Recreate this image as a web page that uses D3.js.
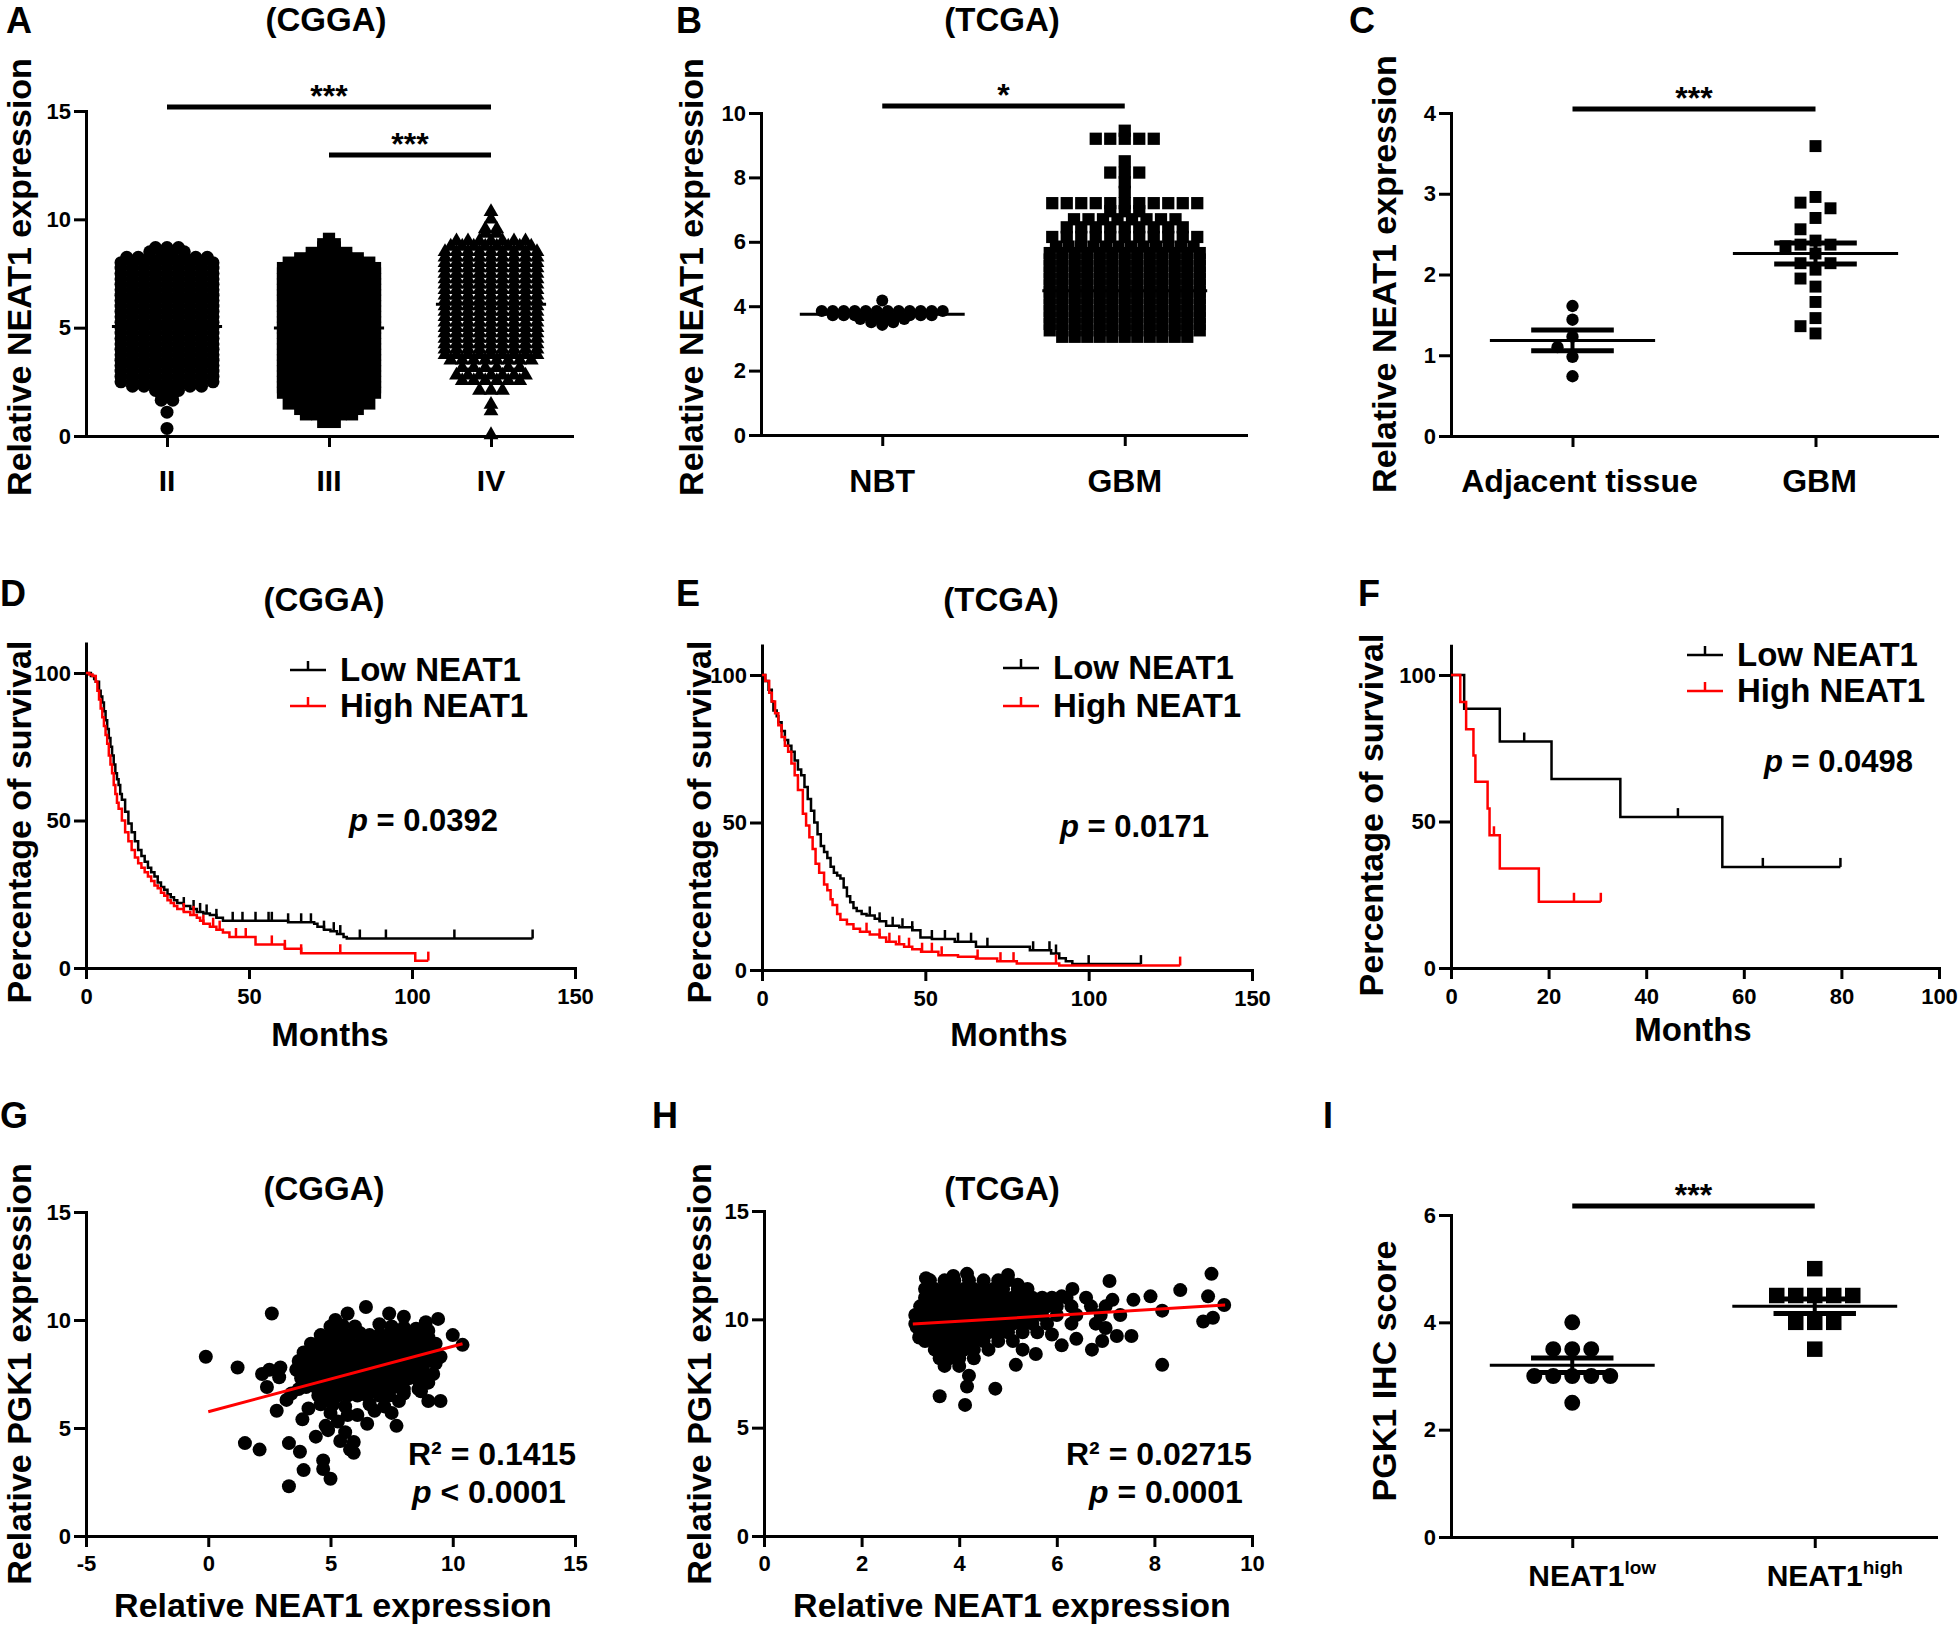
<!DOCTYPE html>
<html>
<head>
<meta charset="utf-8">
<script src="https://cdn.jsdelivr.net/npm/d3@7"></script>
<style>
  body { margin: 0; background: #fff; }
  svg text { font-family: "Liberation Sans", Arial, Helvetica, sans-serif; font-weight: bold; fill: #000; }
</style>
</head>
<body>
<svg id="fig" width="1960" height="1629"></svg>
<script>
// ---------------- DATA ----------------

// A: CGGA, NEAT1 by grade. Dot-plot rows: [value, number of points in that row]
var gradeNames = ["II", "III", "IV"];
var gradeII = [[8.7,3],[8.5,4],[8.25,8],[8.0,9],[7.75,9],[7.5,9],[7.25,9],[7.0,9],[6.75,9],[6.5,9],[6.25,9],[6.0,9],
  [5.75,9],[5.5,9],[5.25,9],[5.0,9],[4.75,9],[4.5,9],[4.25,9],[4.0,9],[3.75,9],[3.5,9],[3.25,9],[3.0,9],[2.75,9],[2.5,9],
  [2.3,7],[2.1,3],[1.9,2],[1.65,2],[1.1,1],[0.35,1]];
var gradeIII = [[9.1,1],[8.85,2],[8.7,2],[8.45,4],[8.2,6],[8.0,8],[7.75,9],[7.5,9],[7.25,9],[7.0,9],[6.75,9],[6.5,9],
  [6.25,9],[6.0,9],[5.75,9],[5.5,9],[5.25,9],[5.0,9],[4.75,9],[4.5,9],[4.25,9],[4.0,9],[3.75,9],[3.5,9],[3.25,9],[3.0,9],
  [2.75,9],[2.5,9],[2.25,9],[2.0,9],[1.75,7],[1.5,8],[1.25,6],[1.0,5],[0.65,2]];
var gradeIV = [[10.35,1],[10.0,1],[9.55,2],[9.35,2],[9.0,7],[8.75,8],[8.5,9],[8.25,9],[8.0,9],[7.75,9],[7.5,9],[7.25,9],
  [7.0,9],[6.75,9],[6.5,9],[6.25,9],[6.0,9],[5.75,9],[5.5,9],[5.25,9],[5.0,9],[4.75,9],[4.5,9],[4.25,9],[4.0,9],[3.75,9],
  [3.5,8],[3.15,6],[2.8,7],[2.55,6],[2.1,3],[1.45,1],[1.15,1],[0.05,1]];
var gradeMeans = [5.05, 4.98, 6.08];

// B: TCGA, NBT vs GBM (rows: [value, count])
var tissueB = ["NBT", "GBM"];
var nbtB = [[4.18,1],[3.85,12],[3.72,10],[3.6,5],[3.5,3],[3.42,1]];
var gbmB = [[9.45,1],[9.2,5],[8.5,1],[8.15,3],[7.85,1],[7.55,1],[7.2,11],[6.95,3],[6.7,8],[6.45,9],[6.15,11],
  [5.85,12],[5.65,13],[5.45,13],[5.25,13],[5.05,13],[4.85,13],[4.65,13],[4.45,13],[4.25,13],[4.05,13],[3.85,13],
  [3.65,13],[3.45,13],[3.25,13],[3.05,11]];
var meansB = [3.75, 4.48];

// C: adjacent tissue vs GBM (individual values)
var tissueC = ["Adjacent tissue", "GBM"];
var adjC = [1.61, 1.44, 1.23, 1.1, 0.98, 0.74];
var gbmC = [3.59, 2.96, 2.89, 2.82, 2.7, 2.56, 2.42, 2.37, 2.37, 2.35, 2.26, 2.14, 2.14, 2.06, 1.95, 1.85, 1.66, 1.46, 1.36, 1.27];

// D: CGGA survival, steps [month, percent]
var kmDLow = [[0,100],[1.5,99],[2.5,98],[3,97],[4,94],[4.5,92],[5,90],[5.5,87],[6,84],[6.5,81],[7,78],[7.5,75],[8,72],
  [8.5,69],[9,66],[9.5,64],[10,62],[10.5,59],[11,57],[12,53],[13,49],[14,46],[15,43],[16,40],[17,38],[18,36],[19,34],
  [20,32.5],[21,31],[22,29],[23,27.5],[24,26.5],[25,25],[26,24],[27,23],[28,22],[30,21],[32,20],[34,19],[36,18.5],
  [38,18],[40,17],[42,16],[62,15.5],[70,15],[71,14],[73,13],[75,12.5],[77,11.5],[79,10.5],[80,10],[137,10]];
var kmDHigh = [[0,100],[1,99.5],[2,99],[3,97],[3.5,94],[4,91],[4.5,88],[5,85],[5.5,82],[6,79],[6.5,76],[7,72],[7.5,69],
  [8,66],[8.5,62],[9,59],[9.5,56],[10,54],[11,50],[12,46],[13,43],[14,40],[15,37.5],[16,35.5],[17,34],[18,32.5],[19,31],
  [20,29.5],[21,28],[22,27],[23,25.5],[24,24.5],[25,23],[26,22],[27,21],[28,20],[30,19],[32,18],[34,17],[35,16],[36,15],
  [38,14],[40,13],[42,12],[44,10.5],[52,8],[61,6.5],[66,5],[101,2.5],[105,2.5]];
var censDLow = [30,33,35,37,40,45,48,52,56,57,62,66,69,73,76,78,84,92,113,137];
var censDHigh = [30,33,36,39,41,46,49,57,61,66,78,105];

// E: TCGA survival
var kmELow = [[0,100],[1,98],[2,95],[3,91],[3.5,88],[4.5,86],[5,84],[6,81],[7,78],[8,76],[9,74],[10,71],[11,68],[12,66],
  [13,62],[14,58],[15,54],[16,50],[17,46],[18,42],[19,40],[20,38],[21,35],[22,33],[23,32],[24,31],[25,28],[26,25],
  [27,23],[28,21],[29,20],[30.5,19],[32,18.5],[34.5,17.4],[36,16.5],[38,15],[42,14.5],[46,13.5],[48.5,11],[52,10.5],
  [59,9.6],[65.5,7.9],[82,6.7],[88.5,5.6],[91,4],[93,3],[95,2],[116,2]];
var kmEHigh = [[0,100],[1,98],[2.2,94],[3,91],[4,87],[5,83],[6,79],[7,76],[8,74],[9,70],[10,66],[11,61],[12.5,53],
  [13.5,49],[14.5,45],[15.5,41],[16.4,36],[17.5,33],[19,29],[20,27],[21,24],[21.6,22],[23,19],[24,17],[26,15.5],[28,14],
  [30,13],[33,12],[36,11],[38,9.6],[41,8.7],[43.5,7.9],[46,7],[48.7,6.2],[54,5],[60,4.5],[65.5,3.9],[72,3],[78,2.2],
  [91,1.5],[128,1.5]];
var censELow = [33,36,40,43,46,52,56,60,64,69,83,88,90,100,116];
var censEHigh = [32,36,39,42,45,49,52,55,66,73,77,90,128];

// F: clinical cohort survival
var kmFLow = [[0,100],[2.7,88.5],[10,77.3],[20.6,64.5],[34.7,51.5],[55.6,34.5],[79.8,34.5]];
var kmFHigh = [[0,100],[1.9,90.8],[3.1,81.5],[4.6,72.5],[5,63.6],[7.5,54.4],[7.9,45.3],[10,34],[18,22.6],[30.7,22.6]];
var censFLow = [15, 46.5, 63.9, 79.8];
var censFHigh = [8.8, 25.2, 30.7];

// G: CGGA NEAT1 vs PGK1 [NEAT1, PGK1]
var scatterG = [
  [-0.1,8.3],[1.2,7.8],[1.5,4.3],[2.1,4.0],[2.6,10.3],[2.2,7.5],[2.5,7.7],[2.95,7.8],[2.9,7.35],[2.4,6.9],[3.2,6.3],
  [2.8,5.8],[3.3,4.3],[3.75,3.9],[3.3,2.3],[3.9,3.05],[3.85,5.4],[3.7,6.8],[4.7,3.5],[4.7,3.1],[5.0,2.65],[4.4,4.6],
  [5.8,4.0],[5.95,3.85],[5.95,4.35],[6.5,5.2],[7.7,5.1],[7.5,5.7],[7.8,6.25],[9.0,6.25],[9.5,6.25],[9.4,10.05],
  [10.0,9.3],[10.4,8.85],[5.7,10.3],[6.45,10.6],[7.4,10.3],[8.0,10.15],[9.5,8.3],[8.7,6.7],[5.3,5.3],[5.6,4.8],
  [5.4,4.4],[6.1,5.6],[6.8,5.8],[3.4,6.6],[4.1,5.9],[4.9,4.9],[8.9,9.9],[5.2,10.0],
  [5.0,9.7],[5.5,9.75],[6.0,9.7],[7.0,9.8],[7.5,9.7],[8.0,9.65],[8.5,9.6],[9.0,9.5],
  [4.6,9.3],[5.0,9.3],[5.4,9.35],[5.8,9.3],[6.2,9.4],[6.6,9.3],[7.0,9.3],[7.4,9.35],[7.8,9.3],[8.2,9.3],[8.6,9.2],[9.0,9.2],
  [4.2,8.9],[4.6,8.9],[5.0,8.95],[5.4,8.9],[5.8,8.9],[6.2,8.9],[6.6,8.95],[7.0,8.9],[7.4,8.9],[7.8,8.9],[8.2,8.85],
  [8.6,8.9],[9.0,8.8],[9.3,8.9],
  [3.9,8.5],[4.3,8.5],[4.7,8.5],[5.1,8.5],[5.5,8.55],[5.9,8.5],[6.3,8.5],[6.7,8.5],[7.1,8.5],[7.5,8.5],[7.9,8.45],
  [8.3,8.5],[8.7,8.5],[9.1,8.4],
  [3.7,8.1],[4.1,8.1],[4.5,8.1],[4.9,8.1],[5.3,8.1],[5.7,8.1],[6.1,8.1],[6.5,8.1],[6.9,8.1],[7.3,8.1],[7.7,8.1],
  [8.1,8.1],[8.5,8.1],[8.9,8.05],[9.3,8.0],
  [3.6,7.7],[4.0,7.7],[4.4,7.7],[4.8,7.7],[5.2,7.7],[5.6,7.7],[6.0,7.7],[6.4,7.7],[6.8,7.7],[7.2,7.7],[7.6,7.7],
  [8.0,7.7],[8.4,7.7],[8.8,7.6],[9.2,7.5],
  [3.8,7.3],[4.2,7.3],[4.6,7.3],[5.0,7.3],[5.4,7.3],[5.8,7.3],[6.2,7.3],[6.6,7.3],[7.0,7.3],[7.4,7.3],[7.8,7.3],
  [8.2,7.3],[8.6,7.2],[9.0,7.1],
  [4.0,6.9],[4.4,6.9],[4.8,6.9],[5.2,6.9],[5.6,6.9],[6.0,6.9],[6.4,6.9],[6.8,6.9],[7.2,6.9],[7.6,6.9],[8.0,6.8],[8.6,6.8],
  [4.5,6.5],[4.9,6.5],[5.3,6.5],[5.7,6.5],[6.1,6.5],[6.5,6.5],[7.0,6.5],[7.4,6.5],[8.0,6.6],
  [4.6,6.1],[5.1,6.1],[5.6,6.0],[6.6,6.1],[7.2,6.0],[5.0,5.7],[5.7,5.6],[4.8,5.1]
];
var fitG = [[0, 5.75], [10.4, 8.9]];

// H: TCGA NEAT1 vs PGK1
var scatterH = [
  [3.6,6.45],[4.12,6.05],[4.16,6.9],[4.2,7.4],[4.74,6.8],[5.16,7.9],[5.57,8.4],[6.1,8.8],[6.72,8.6],[6.93,9.0],
  [7.23,9.23],[8.16,7.9],[9.0,9.9],[9.2,10.07],[9.17,12.1],[9.1,11.06],[9.43,10.66],[8.53,11.35],[8.16,10.4],
  [7.92,11.06],[7.57,10.9],[7.08,11.77],[7.14,10.9],[6.32,11.4],[5.0,12.05],[5.2,11.6],[4.16,12.1],[3.88,12.0],
  [3.32,11.9],[3.13,9.64],[3.18,9.16],[6.1,11.06],[7.0,9.6],[7.53,9.23],[6.4,9.1],[5.9,9.3],[5.3,8.6],
  [3.4,11.8],[3.7,11.8],[3.9,11.8],[4.2,11.8],[4.5,11.8],[4.8,11.8],[5.0,11.8],
  [3.3,11.4],[3.5,11.4],[3.7,11.4],[3.9,11.4],[4.1,11.4],[4.3,11.4],[4.5,11.4],[4.7,11.4],[4.9,11.4],[5.2,11.4],[5.4,11.4],
  [3.3,11.0],[3.5,11.0],[3.7,11.0],[3.9,11.0],[4.1,11.0],[4.3,11.0],[4.5,11.0],[4.7,11.0],[4.9,11.0],[5.1,11.0],
  [5.3,11.0],[5.5,11.0],[5.7,11.0],[5.9,11.0],[6.2,11.0],[6.6,11.0],
  [3.2,10.6],[3.4,10.6],[3.6,10.6],[3.8,10.6],[4.0,10.6],[4.2,10.6],[4.4,10.6],[4.6,10.6],[4.8,10.6],[5.0,10.6],
  [5.2,10.6],[5.4,10.6],[5.6,10.6],[5.8,10.6],[6.0,10.6],[6.3,10.6],[6.7,10.6],[7.0,10.6],
  [3.1,10.2],[3.3,10.2],[3.5,10.2],[3.7,10.2],[3.9,10.2],[4.1,10.2],[4.3,10.2],[4.5,10.2],[4.7,10.2],[4.9,10.2],
  [5.1,10.2],[5.3,10.2],[5.5,10.2],[5.7,10.2],[6.0,10.2],[6.4,10.2],[6.9,10.2],[7.3,10.2],
  [3.1,9.8],[3.3,9.8],[3.5,9.8],[3.7,9.8],[3.9,9.8],[4.1,9.8],[4.3,9.8],[4.5,9.8],[4.7,9.8],[4.9,9.8],[5.1,9.8],
  [5.3,9.8],[5.5,9.8],[5.8,9.8],[6.3,9.8],[6.8,9.8],
  [3.2,9.4],[3.4,9.4],[3.6,9.4],[3.8,9.4],[4.0,9.4],[4.2,9.4],[4.4,9.4],[4.6,9.4],[4.8,9.4],[5.0,9.4],[5.3,9.4],[5.6,9.4],
  [3.3,9.0],[3.5,9.0],[3.7,9.0],[3.9,9.0],[4.1,9.0],[4.3,9.0],[4.5,9.0],[4.8,9.0],[5.1,9.0],
  [3.5,8.6],[3.7,8.6],[3.9,8.6],[4.1,8.6],[4.3,8.6],[4.6,8.6],
  [3.6,8.2],[3.8,8.2],[4.0,8.2],[4.3,8.2],[3.7,7.85],[4.0,7.85]
];
var fitH = [[3.05, 9.78], [9.45, 10.66]];

// I: PGK1 IHC score by NEAT1 level
var ihcGroups = ["low", "high"];
var ihcLow = [4.0, 3.5, 3.5, 3.5, 3.0, 3.0, 3.0, 3.0, 3.0, 2.5];
var ihcHigh = [5.0, 4.5, 4.5, 4.5, 4.5, 4.5, 4.0, 4.0, 4.0, 3.5];

// ---------------- DRAWING ----------------
var svg = d3.select("#fig");

function addText(x, y, s, size, anchor) {
  return svg.append("text").attr("x", x).attr("y", y)
    .attr("font-size", size).attr("text-anchor", anchor || "start").text(s);
}
// rotated axis title: x is the baseline, y the centre
function addVText(x, y, s) {
  return svg.append("text").attr("transform", "translate(" + x + "," + y + ") rotate(-90)")
    .attr("font-size", 34).attr("text-anchor", "middle").text(s);
}
function plain(d) { return String(d); }  // keeps "-5" with a hyphen like the figure
function styleAxis(g) {
  g.attr("font-size", null).attr("font-family", null);
  g.select(".domain").attr("stroke-width", 3).attr("stroke-linecap", "square");
  g.selectAll(".tick line").attr("stroke-width", 3);
  g.selectAll(".tick text").attr("font-size", 22);
}
function leftAxis(y, x, ticks) {
  var g = svg.append("g").attr("transform", "translate(" + x + ",0)")
    .call(d3.axisLeft(y).tickValues(ticks).tickFormat(plain).tickSize(12).tickPadding(3).tickSizeOuter(0));
  styleAxis(g);
}
function bottomAxis(x, y, ticks, pad) {
  var ax = d3.axisBottom(x).tickSize(11).tickPadding(pad).tickSizeOuter(0);
  if (ticks) ax.tickValues(ticks).tickFormat(plain); else ax.tickFormat("");
  var g = svg.append("g").attr("transform", "translate(0," + y + ")").call(ax);
  styleAxis(g);
}
function hline(x1, x2, y, w, color) {
  svg.append("line").attr("x1", x1).attr("x2", x2).attr("y1", y).attr("y2", y)
    .attr("stroke", color || "#000").attr("stroke-width", w);
}

// markers
var shapes = { circle: [d3.symbolCircle, 133], square: [d3.symbolSquare, 150], triangle: [d3.symbolTriangle, 95] };
function drawMarks(pts, shape, scale) {
  var sym = d3.symbol().type(shapes[shape][0]).size(shapes[shape][1] * (scale || 1));
  svg.append("g").selectAll("path").data(pts).join("path")
    .attr("transform", function(d) { return "translate(" + d.x + "," + d.y + ")"; })
    .attr("d", sym).attr("fill", "#000");
}
// dot-plot rows: points of one row centred round the group; step may depend on the value
function rowPoints(rows, cx, y, step) {
  var pts = [];
  rows.forEach(function(r) {
    var s = typeof step === "function" ? step(r[0]) : step;
    for (var i = 0; i < r[1]; i++) pts.push({ x: cx + (i - (r[1] - 1) / 2) * s, y: y(r[0]) });
  });
  return pts;
}
// simple beeswarm for the small groups
function swarm(values, cx, y, step, size) {
  var placed = [];
  values.slice().sort(function(a, b) { return b - a; }).forEach(function(v) {
    var py = y(v);
    for (var k = 0; k < 40; k++) {
      var off = k === 0 ? 0 : (k % 2 ? -1 : 1) * Math.ceil(k / 2) * step;
      var ok = placed.every(function(p) { return Math.abs(p.y - py) >= size || Math.abs(p.x - cx - off) >= step * 0.99; });
      if (ok) { placed.push({ x: cx + off, y: py }); break; }
    }
  });
  return placed;
}
function meanSem(values, cx, y, step) {
  var m = d3.mean(values), sem = d3.deviation(values) / Math.sqrt(values.length);
  hline(cx - 0.34 * step, cx + 0.34 * step, y(m), 3);
  hline(cx - 0.17 * step, cx + 0.17 * step, y(m + sem), 5);
  hline(cx - 0.17 * step, cx + 0.17 * step, y(m - sem), 5);
  svg.append("line").attr("x1", cx).attr("x2", cx).attr("y1", y(m - sem)).attr("y2", y(m + sem))
    .attr("stroke", "#000").attr("stroke-width", 4);
}
function sigBar(x1, x2, yv, label) {
  hline(x1, x2, yv, 5);
  addText((x1 + x2) / 2, yv, label, 32, "middle");
}

// ---------- A ----------
var xA = d3.scalePoint().domain(gradeNames).range([86, 572]).padding(0.5);
var yA = d3.scaleLinear().domain([0, 15]).range([436, 111]);
leftAxis(yA, 86, [0, 5, 10, 15]);
bottomAxis(xA, 436, null, 0);
[[gradeII, "circle"], [gradeIII, "square"], [gradeIV, "triangle"]].forEach(function(g, i) {
  drawMarks(rowPoints(g[0], xA(gradeNames[i]), yA, 11.5), g[1]);
  hline(xA(gradeNames[i]) - 0.34 * xA.step(), xA(gradeNames[i]) + 0.34 * xA.step(), yA(gradeMeans[i]), 3);
  addText(xA(gradeNames[i]), 491, gradeNames[i], 30, "middle");
});
sigBar(xA("II"), xA("IV"), yA(15.18), "***");
sigBar(xA("III"), xA("IV"), yA(12.97), "***");
addText(6, 33, "A", 36);
addText(326, 31, "(CGGA)", 33, "middle");
addVText(31, 277, "Relative NEAT1 expression");

// ---------- B ----------
var xB = d3.scalePoint().domain(tissueB).range([761, 1246]).padding(0.5);
var yB = d3.scaleLinear().domain([0, 10]).range([435, 113]);
leftAxis(yB, 761, [0, 2, 4, 6, 8, 10]);
bottomAxis(xB, 435, null, 0);
drawMarks(rowPoints(nbtB, xB("NBT"), yB, 11), "circle", 0.85);
drawMarks(rowPoints(gbmB, xB("GBM"), yB, function(v) { return v > 5.9 ? 14.5 : 12.5; }), "square");
meansB.forEach(function(m, i) {
  hline(xB(tissueB[i]) - 0.34 * xB.step(), xB(tissueB[i]) + 0.34 * xB.step(), yB(m), 3);
});
tissueB.forEach(function(t) { addText(xB(t), 492, t, 32, "middle"); });
sigBar(xB("NBT"), xB("GBM"), yB(10.22), "*");
addText(676, 33, "B", 36);
addText(1002, 31, "(TCGA)", 33, "middle");
addVText(703, 277, "Relative NEAT1 expression");

// ---------- C ----------
var xC = d3.scalePoint().domain(tissueC).range([1451, 1937]).padding(0.5);
var yC = d3.scaleLinear().domain([0, 4]).range([436, 113]);
leftAxis(yC, 1451, [0, 1, 2, 3, 4]);
bottomAxis(xC, 436, null, 0);
drawMarks(swarm(adjC, xC(tissueC[0]), yC, 15, 12), "circle", 0.9);
drawMarks(swarm(gbmC, xC(tissueC[1]), yC, 15, 12), "square", 0.95);
meanSem(adjC, xC(tissueC[0]), yC, xC.step());
meanSem(gbmC, xC(tissueC[1]), yC, xC.step());
addText(xC(tissueC[0]) + 7, 492, tissueC[0], 32, "middle");
addText(xC(tissueC[1]) + 4, 492, tissueC[1], 32, "middle");
sigBar(xC(tissueC[0]), xC(tissueC[1]), yC(4.05), "***");
addText(1349, 33, "C", 36);
addVText(1396, 274, "Relative NEAT1 expression");

// ---------- Kaplan-Meier panels ----------
function survAt(data, t) {
  var s = data[0][1];
  data.forEach(function(d) { if (d[0] <= t) s = d[1]; });
  return s;
}
function kmCurves(x, y, sets) {
  var line = d3.line().x(function(d) { return x(d[0]); }).y(function(d) { return y(d[1]); }).curve(d3.curveStepAfter);
  sets.forEach(function(s) {
    svg.append("path").datum(s[0]).attr("d", line).attr("fill", "none")
      .attr("stroke", s[2]).attr("stroke-width", 2.5);
    svg.append("g").selectAll("line").data(s[1]).join("line")
      .attr("x1", function(t) { return x(t); }).attr("x2", function(t) { return x(t); })
      .attr("y1", function(t) { return y(survAt(s[0], t)); })
      .attr("y2", function(t) { return y(survAt(s[0], t)) - 9; })
      .attr("stroke", s[2]).attr("stroke-width", 2.5);
  });
}
function kmLegend(x0, yLow, yHigh) {
  [[yLow, "#000", "Low NEAT1"], [yHigh, "#f00", "High NEAT1"]].forEach(function(r) {
    hline(x0, x0 + 36, r[0], 2.5, r[1]);
    svg.append("line").attr("x1", x0 + 18).attr("x2", x0 + 18).attr("y1", r[0]).attr("y2", r[0] - 9)
      .attr("stroke", r[1]).attr("stroke-width", 2.5);
    addText(x0 + 50, r[0] + 11, r[2], 33);
  });
}
function pText(x, y, rest, size) {
  var t = addText(x, y, "", size || 31);
  t.append("tspan").attr("font-style", "italic").text("p");
  t.append("tspan").text(rest);
}

// D
var xD = d3.scaleLinear().domain([0, 150]).range([86, 575]);
var yD = d3.scaleLinear().domain([0, 110]).range([968, 643.5]);
leftAxis(yD, 86, [0, 50, 100]);
bottomAxis(xD, 968, [0, 50, 100, 150], 9);
kmCurves(xD, yD, [[kmDLow, censDLow, "#000"], [kmDHigh, censDHigh, "#f00"]]);
kmLegend(290, 670, 706);
pText(349, 831, " = 0.0392");
addText(0, 606, "D", 36);
addText(324, 611, "(CGGA)", 33, "middle");
addVText(31, 822, "Percentage of survival");
addText(330, 1046, "Months", 33, "middle");

// E
var xE = d3.scaleLinear().domain([0, 150]).range([762, 1252]);
var yE = d3.scaleLinear().domain([0, 110]).range([970, 645.5]);
leftAxis(yE, 762, [0, 50, 100]);
bottomAxis(xE, 970, [0, 50, 100, 150], 9);
kmCurves(xE, yE, [[kmELow, censELow, "#000"], [kmEHigh, censEHigh, "#f00"]]);
kmLegend(1003, 668, 706);
pText(1060, 837, " = 0.0171");
addText(676, 606, "E", 36);
addText(1001, 611, "(TCGA)", 33, "middle");
addVText(711, 822, "Percentage of survival");
addText(1009, 1046, "Months", 33, "middle");

// F
var xF = d3.scaleLinear().domain([0, 100]).range([1451, 1939]);
var yF = d3.scaleLinear().domain([0, 110]).range([968, 645.7]);
leftAxis(yF, 1451, [0, 50, 100]);
bottomAxis(xF, 968, [0, 20, 40, 60, 80, 100], 9);
kmCurves(xF, yF, [[kmFLow, censFLow, "#000"], [kmFHigh, censFHigh, "#f00"]]);
kmLegend(1687, 655, 691);
pText(1764, 772, " = 0.0498");
addText(1358, 606, "F", 36);
addVText(1383, 815, "Percentage of survival");
addText(1693, 1041, "Months", 33, "middle");

// ---------- scatter panels ----------
function scatterPanel(pts, fit, x, y) {
  svg.append("g").selectAll("circle").data(pts).join("circle")
    .attr("cx", function(d) { return x(d[0]); }).attr("cy", function(d) { return y(d[1]); })
    .attr("r", 7).attr("fill", "#000");
  svg.append("line").attr("x1", x(fit[0][0])).attr("y1", y(fit[0][1]))
    .attr("x2", x(fit[1][0])).attr("y2", y(fit[1][1]))
    .attr("stroke", "#f00").attr("stroke-width", 3);
}

// G
var xG = d3.scaleLinear().domain([-5, 15]).range([86, 575]);
var yG = d3.scaleLinear().domain([0, 15]).range([1536, 1212]);
leftAxis(yG, 86, [0, 5, 10, 15]);
bottomAxis(xG, 1536, [-5, 0, 5, 10, 15], 8);
scatterPanel(scatterG, fitG, xG, yG);
addText(408, 1465, "R\u00b2 = 0.1415", 32);
pText(412, 1503, " < 0.0001", 32);
addText(0, 1128, "G", 36);
addText(324, 1200, "(CGGA)", 33, "middle");
addVText(31, 1374, "Relative PGK1 expression");
addText(333, 1617, "Relative NEAT1 expression", 34, "middle");

// H
var xH = d3.scaleLinear().domain([0, 10]).range([764, 1252]);
var yH = d3.scaleLinear().domain([0, 15]).range([1536, 1211]);
leftAxis(yH, 764, [0, 5, 10, 15]);
bottomAxis(xH, 1536, [0, 2, 4, 6, 8, 10], 8);
scatterPanel(scatterH, fitH, xH, yH);
addText(1066, 1465, "R\u00b2 = 0.02715", 32);
pText(1089, 1503, " = 0.0001", 32);
addText(652, 1128, "H", 36);
addText(1002, 1200, "(TCGA)", 33, "middle");
addVText(711, 1374, "Relative PGK1 expression");
addText(1012, 1617, "Relative NEAT1 expression", 34, "middle");

// ---------- I ----------
var xI = d3.scalePoint().domain(ihcGroups).range([1451, 1936]).padding(0.5);
var yI = d3.scaleLinear().domain([0, 6]).range([1537, 1215]);
leftAxis(yI, 1451, [0, 2, 4, 6]);
bottomAxis(xI, 1537, null, 0);
drawMarks(swarm(ihcLow, xI("low"), yI, 19, 14), "circle", 1.5);
drawMarks(swarm(ihcHigh, xI("high"), yI, 19, 14), "square", 1.6);
meanSem(ihcLow, xI("low"), yI, xI.step());
meanSem(ihcHigh, xI("high"), yI, xI.step());
ihcGroups.forEach(function(g) {
  var t = addText(xI(g) + 20, 1586, "NEAT1", 30, "middle");
  t.append("tspan").attr("dy", -12).attr("font-size", 19).text(g);
});
sigBar(xI("low"), xI("high"), yI(6.17), "***");
addText(1323, 1128, "I", 36);
addVText(1396, 1371, "PGK1 IHC score");
</script>
</body>
</html>
